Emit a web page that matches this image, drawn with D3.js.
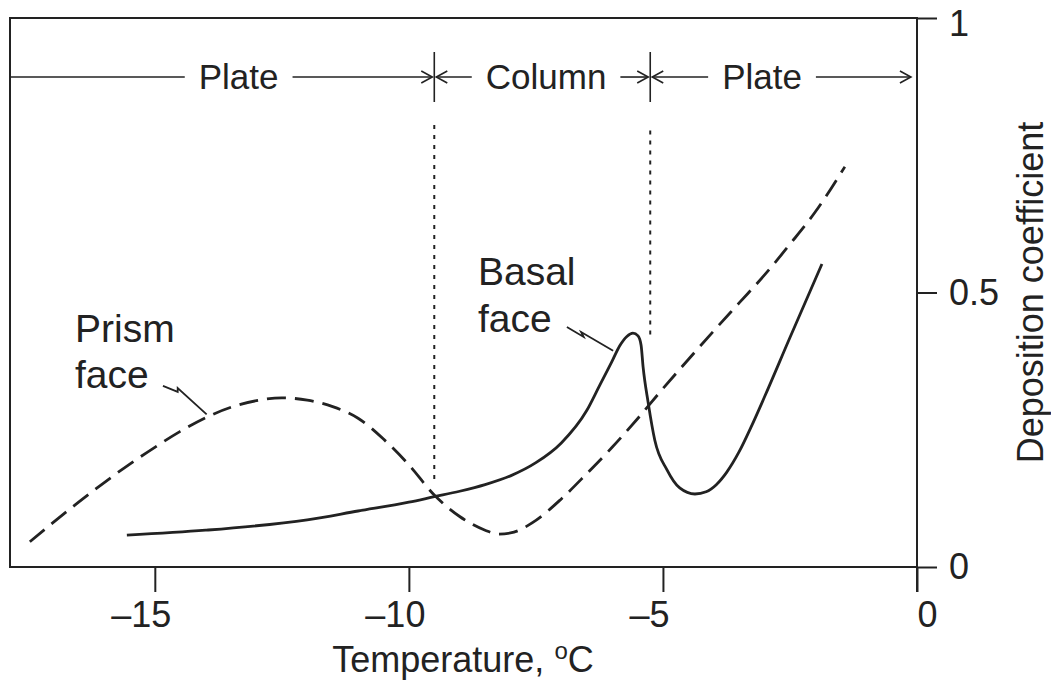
<!DOCTYPE html>
<html>
<head>
<meta charset="utf-8">
<script src="https://cdn.jsdelivr.net/npm/d3@7"></script>
<style>
  body { margin: 0; background: #fff; }
  text { font-family: "Liberation Sans", Arial, Helvetica, sans-serif; fill: #222; }
</style>
</head>
<body>
<div id="viz"></div>
<script>
const width = 1051;
const height = 686;
const ink = '#222';

// Temperature (°C) vs deposition coefficient
const prismFace = [
  [-17.46, 0.046], [-16.5, 0.118], [-15.5, 0.187], [-15.0, 0.218], [-14.5, 0.247],
  [-14.0, 0.272], [-13.5, 0.291], [-13.0, 0.303], [-12.5, 0.308], [-12.0, 0.304],
  [-11.5, 0.292], [-11.0, 0.271], [-10.5, 0.233], [-10.0, 0.186], [-9.5, 0.131],
  [-9.0, 0.092], [-8.5, 0.067], [-8.25, 0.060], [-8.0, 0.062], [-7.5, 0.085],
  [-7.0, 0.124], [-6.5, 0.170], [-6.0, 0.218], [-5.5, 0.270], [-5.0, 0.325],
  [-4.5, 0.378], [-4.0, 0.430], [-3.5, 0.481], [-3.0, 0.532], [-2.5, 0.588],
  [-2.0, 0.647], [-1.42, 0.729]
];

const basalFace = [
  [-15.55, 0.058], [-14.0, 0.067], [-12.0, 0.086], [-11.0, 0.102], [-10.0, 0.118],
  [-9.5, 0.128], [-9.0, 0.138], [-8.5, 0.150], [-8.0, 0.166], [-7.5, 0.190],
  [-7.0, 0.226], [-6.5, 0.285], [-6.25, 0.330], [-6.0, 0.375], [-5.85, 0.403],
  [-5.71, 0.420], [-5.59, 0.426], [-5.49, 0.421], [-5.43, 0.404], [-5.39, 0.364],
  [-5.29, 0.299], [-5.16, 0.231], [-4.92, 0.177], [-4.67, 0.144], [-4.37, 0.133],
  [-4.15, 0.137], [-3.95, 0.150], [-3.75, 0.172], [-3.5, 0.210], [-3.25, 0.258],
  [-3.0, 0.310], [-2.5, 0.418], [-1.87, 0.552]
];

const xTicks = [-15, -10, -5, 0];
const yTicks = [0, 0.5, 1];

// habit zones along the top
const zoneNames = ['Plate', 'Column', 'Plate'];
const zoneEdges = [-17.85, -9.5, -5.25, -0.08];
const zoneLabelT = [-13.35, -7.3, -3.05];
const zoneV = 0.8925;

// dotted boundary lines [temperature, top, bottom]
const boundaries = [[-9.5, 0.805, 0.158], [-5.25, 0.795, 0.419]];

// curve labels
const curveLabels = [
  {lines: ['Prism', 'face'], t: -16.57, v: [0.41, 0.326]},
  {lines: ['Basal', 'face'], t: -8.64, v: [0.514, 0.428]}
];
const leaders = [
  [[-14.84, 0.330], [-14.55, 0.319], [-14.55, 0.326], [-13.98, 0.278]],
  [[-6.89, 0.437], [-6.56, 0.419], [-6.61, 0.428], [-5.98, 0.394]]
];

const margin = {top: 18, right: 134, bottom: 119, left: 10};

const xScale = d3.scaleLinear()
  .domain([-17.85, 0])
  .range([margin.left, width - margin.right]);

const yScale = d3.scaleLinear()
  .domain([0, 1])
  .range([height - margin.bottom, margin.top]);

const svg = d3.select('#viz')
  .append('svg')
    .attr('width', width)
    .attr('height', height)
    .attr('viewBox', [0, 0, width, height]);

// frame
svg.append('rect')
  .attr('x', xScale.range()[0])
  .attr('y', yScale.range()[1])
  .attr('width', xScale.range()[1] - xScale.range()[0])
  .attr('height', yScale.range()[0] - yScale.range()[1])
  .attr('fill', 'none')
  .attr('stroke', ink)
  .attr('stroke-width', 2);

const fmt = d => d < 0 ? '\u2013' + Math.abs(d) : String(d);

const xAxis = svg.append('g')
  .attr('transform', `translate(0, ${yScale(0)})`)
  .call(d3.axisBottom(xScale).tickValues(xTicks).tickSize(25).tickSizeOuter(0).tickFormat(fmt));
xAxis.select('.domain').remove();
xAxis.selectAll('line').attr('stroke', ink).attr('stroke-width', 2);
xAxis.selectAll('text')
  .attr('y', 60).attr('dy', 0)
  .attr('dx', d => d < 0 ? -14 : 10)
  .attr('font-size', 36)
  .attr('font-family', null)
  .attr('fill', ink);

const yAxis = svg.append('g')
  .attr('transform', `translate(${xScale(0)}, 0)`)
  .call(d3.axisRight(yScale).tickValues(yTicks).tickSize(20).tickSizeOuter(0).tickFormat(d => String(d)));
yAxis.select('.domain').remove();
yAxis.selectAll('line').attr('stroke', ink).attr('stroke-width', 2);
yAxis.selectAll('text')
  .attr('x', 32)
  .attr('y', d => d === 1 ? 6 : 0)
  .attr('dy', '0.33em')
  .attr('font-size', 36)
  .attr('font-family', null)
  .attr('fill', ink);

// right axis runs down to the x tick at 0
svg.append('line')
  .attr('x1', xScale(0)).attr('x2', xScale(0))
  .attr('y1', yScale(1)).attr('y2', yScale(0) + 25)
  .attr('stroke', ink).attr('stroke-width', 2);

// axis titles
const xTitle = svg.append('text')
  .attr('x', 463)
  .attr('y', 672)
  .attr('text-anchor', 'middle')
  .attr('font-size', 36);
xTitle.append('tspan').text('Temperature, ');
xTitle.append('tspan').attr('font-size', 24).attr('dy', -13).text('o');
xTitle.append('tspan').attr('dy', 13).text('C');

svg.append('text')
  .attr('transform', `translate(1043, ${yScale(0.5)}) rotate(-90)`)
  .attr('text-anchor', 'middle')
  .attr('font-size', 36)
  .text('Deposition coefficient');

// dotted boundaries
svg.append('g')
  .selectAll('line')
  .data(boundaries)
  .join('line')
    .attr('x1', d => xScale(d[0])).attr('x2', d => xScale(d[0]))
    .attr('y1', d => yScale(d[1])).attr('y2', d => yScale(d[2]))
    .attr('stroke', ink)
    .attr('stroke-width', 2)
    .attr('stroke-dasharray', '4,6');

// curves
const line = d3.line()
  .x(d => xScale(d[0]))
  .y(d => yScale(d[1]))
  .curve(d3.curveMonotoneX);

svg.append('path')
  .attr('d', line(prismFace))
  .attr('fill', 'none')
  .attr('stroke', ink)
  .attr('stroke-width', 2.8)
  .attr('stroke-dasharray', '19,9');

svg.append('path')
  .attr('d', line(basalFace))
  .attr('fill', 'none')
  .attr('stroke', ink)
  .attr('stroke-width', 2.8);

// zone annotation row
const zy = yScale(zoneV);
const zones = svg.append('g').attr('stroke', ink).attr('stroke-width', 1.6).attr('fill', 'none');

function arrowHead(tipX, dir) {
  // dir = +1 points right, -1 points left
  zones.append('path')
    .attr('d', `M${tipX - dir * 11},${zy - 6} L${tipX},${zy} L${tipX - dir * 11},${zy + 6}`);
}

zoneEdges.slice(1, 3).forEach(t => {
  zones.append('line')
    .attr('x1', xScale(t)).attr('x2', xScale(t))
    .attr('y1', zy - 25).attr('y2', zy + 25);
});

zoneNames.forEach((name, i) => {
  const label = svg.append('text')
    .attr('x', xScale(zoneLabelT[i]))
    .attr('y', zy)
    .attr('dy', '0.35em')
    .attr('text-anchor', 'middle')
    .attr('font-size', 35)
    .text(name);
  const w = label.node().getComputedTextLength();
  const cx = xScale(zoneLabelT[i]);
  const left = xScale(zoneEdges[i]) + (i > 0 ? 2 : 0);
  const right = xScale(zoneEdges[i + 1]) - 2;
  zones.append('line').attr('x1', left).attr('x2', cx - w / 2 - 14).attr('y1', zy).attr('y2', zy);
  zones.append('line').attr('x1', cx + w / 2 + 14).attr('x2', right).attr('y1', zy).attr('y2', zy);
  if (i > 0) arrowHead(left, -1);
  arrowHead(right, 1);
});

// curve labels and leaders
curveLabels.forEach(c => {
  c.lines.forEach((s, j) => {
    svg.append('text')
      .attr('x', xScale(c.t))
      .attr('y', yScale(c.v[j]))
      .attr('font-size', 39)
      .text(s);
  });
});

svg.append('g')
  .selectAll('path')
  .data(leaders)
  .join('path')
    .attr('d', d3.line().x(d => xScale(d[0])).y(d => yScale(d[1])))
    .attr('fill', 'none')
    .attr('stroke', ink)
    .attr('stroke-width', 1.8);
</script>
</body>
</html>
